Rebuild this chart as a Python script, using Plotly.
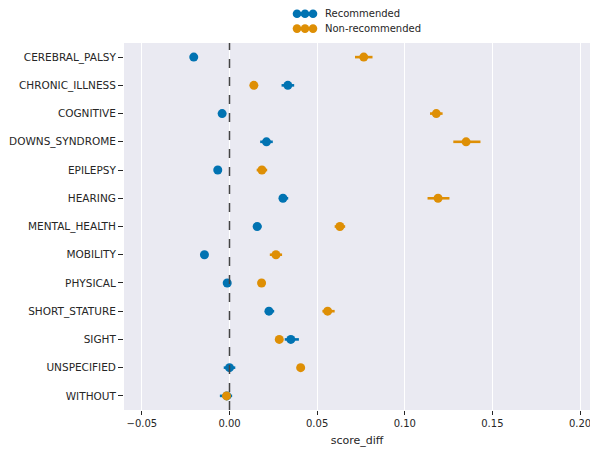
import plotly.graph_objects as go

categories = ["CEREBRAL_PALSY", "CHRONIC_ILLNESS", "COGNITIVE", "DOWNS_SYNDROME", "EPILEPSY",
              "HEARING", "MENTAL_HEALTH", "MOBILITY", "PHYSICAL", "SHORT_STATURE", "SIGHT",
              "UNSPECIFIED", "WITHOUT"]

rec_values = [-0.0204, 0.0333, -0.0042, 0.0211, -0.0067, 0.0305, 0.0158, -0.0143, -0.0013, 0.0225, 0.0350, 0.0000, -0.0015]
rec_err_minus = [0.0020, 0.0036, 0.0010, 0.0036, 0.0020, 0.0010, 0.0010, 0.0010, 0.0010, 0.0010, 0.0035, 0.0033, 0.0040]
rec_err_plus = [0.0020, 0.0036, 0.0010, 0.0036, 0.0020, 0.0030, 0.0025, 0.0010, 0.0010, 0.0030, 0.0046, 0.0033, 0.0030]

non_values = [0.0766, 0.0139, 0.1180, 0.1350, 0.0185, 0.1190, 0.0630, 0.0265, 0.0183, 0.0560, 0.0284, 0.0406, -0.0017]
non_err_minus = [0.0050, 0.0020, 0.0036, 0.0073, 0.0030, 0.0060, 0.0030, 0.0035, 0.0010, 0.0030, 0.0020, 0.0010, 0.0010]
non_err_plus = [0.0050, 0.0020, 0.0036, 0.0082, 0.0030, 0.0065, 0.0030, 0.0035, 0.0010, 0.0040, 0.0020, 0.0010, 0.0010]

series_names = ["Recommended", "Non-recommended"]

x_ticks = [-0.05, 0.00, 0.05, 0.10, 0.15, 0.20]
x_tick_labels = ["\u22120.05", "0.00", "0.05", "0.10", "0.15", "0.20"]

BLUE = "#0173B2"
ORANGE = "#DE8F05"
TXT = "#262626"
FONT = "DejaVu Sans"

W, H = 590, 450
ML, MR, MT, MB = 124, 0, 43, 40
PW, PH = W - ML - MR, H - MT - MB


def px_x(px):
    return (px - ML) / PW


def px_y(py):
    return 1 - (py - MT) / PH


ypos = list(range(len(categories)))

fig = go.Figure()

for name, vals, em, ep, col in [(series_names[0], rec_values, rec_err_minus, rec_err_plus, BLUE),
                                 (series_names[1], non_values, non_err_minus, non_err_plus, ORANGE)]:
    fig.add_trace(go.Scatter(
        x=vals, y=ypos, mode="markers", name=name, showlegend=False,
        marker=dict(color=col, size=9, line=dict(width=0)),
        error_x=dict(type="data", symmetric=False, array=ep, arrayminus=em,
                     color=col, thickness=2.6, width=0),
    ))

fig.add_shape(type="line", xref="x", yref="paper", x0=0, x1=0, y0=0, y1=1,
              line=dict(color="#444444", width=1.5, dash="dash"))

# custom legend (seaborn-style three-dot markers)
for name, col, cy in [(series_names[0], BLUE, 13.8), (series_names[1], ORANGE, 28.6)]:
    fig.add_shape(type="line", xref="paper", yref="paper",
                  x0=px_x(296), x1=px_x(313), y0=px_y(cy), y1=px_y(cy),
                  line=dict(color=col, width=3))
    for cx in [297.0, 305.0, 313.0]:
        r = 4.3
        fig.add_shape(type="circle", xref="paper", yref="paper",
                      x0=px_x(cx - r), x1=px_x(cx + r), y0=px_y(cy + r), y1=px_y(cy - r),
                      fillcolor=col, line=dict(width=0))
    fig.add_annotation(x=px_x(323), y=px_y(cy), xref="paper", yref="paper",
                       text=name, showarrow=False, xanchor="left", yanchor="middle",
                       font=dict(family=FONT, size=10, color=TXT))

fig.update_layout(
    width=W, height=H,
    margin=dict(l=ML, r=MR, t=MT, b=MB),
    paper_bgcolor="white",
    plot_bgcolor="#EAEAF2",
    showlegend=False,
    font=dict(family=FONT, size=10, color=TXT),
    xaxis=dict(range=[-0.0602, 0.2057], tickvals=x_ticks, ticktext=x_tick_labels,
               showgrid=True, gridcolor="white", gridwidth=1, zeroline=False,
               ticks="outside", ticklen=4, tickcolor=TXT, showline=False,
               ticklabeloverflow="allow",
               title=dict(text="score_diff", font=dict(size=11, color=TXT), standoff=8)),
    yaxis=dict(range=[12.5, -0.5], tickvals=ypos, ticktext=categories,
               showgrid=False, zeroline=False, ticks="outside", ticklen=5,
               tickcolor=TXT, showline=False, tickfont=dict(size=10.5)),
)

fig.write_html("out.html", config={"displayModeBar": False},
               post_script="document.body.style.margin='0';document.body.style.overflow='hidden';")
